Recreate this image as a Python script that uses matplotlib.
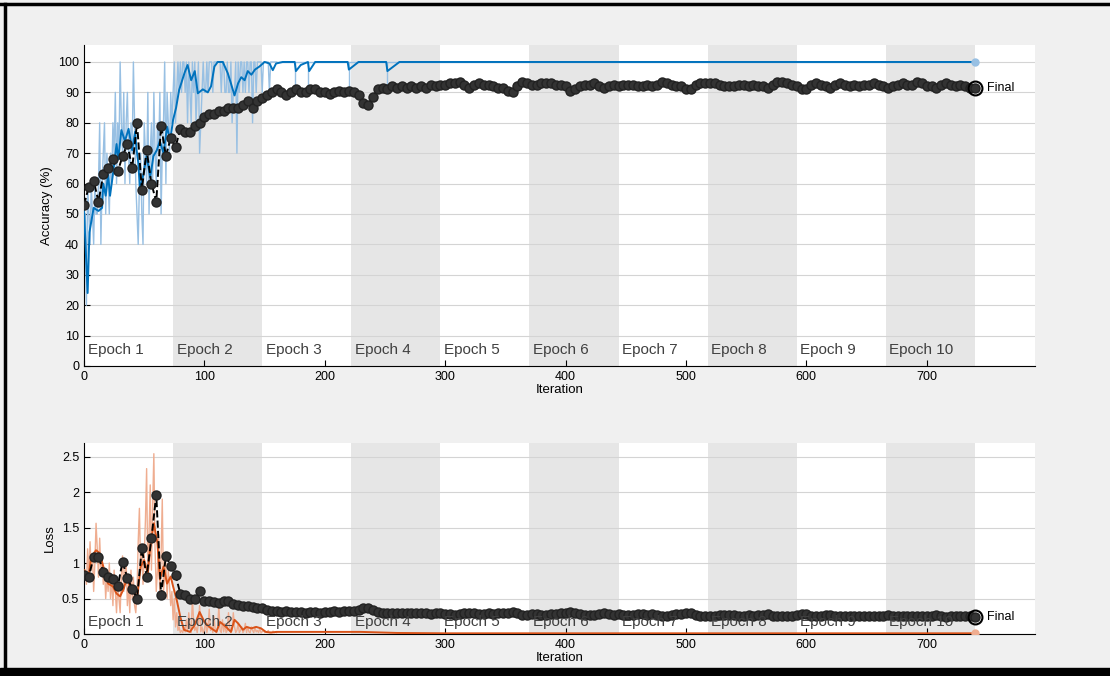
import matplotlib
matplotlib.use('Agg')
import matplotlib.pyplot as plt
from matplotlib.lines import Line2D
from matplotlib.patches import Rectangle

plt.rcParams['font.family'] = ['Liberation Sans', 'DejaVu Sans']

# epochs: 74 iterations each
epoch_len = 74
n_epochs = 10
n_iter = 740

# raw training accuracy, iterations 1..160 (later it sits at 100 with a few dips)
train_acc_raw = [
    50, 20, 60, 50, 40, 60, 50, 40, 60, 50,
    50, 60, 80, 40, 60, 70, 80, 50, 70, 60,
    50, 70, 60, 80, 70, 90, 60, 80, 70, 100,
    80, 70, 90, 60, 80, 90, 70, 60, 80, 70,
    100, 80, 60, 50, 40, 60, 70, 50, 40, 80,
    70, 60, 90, 50, 70, 80, 60, 90, 70, 60,
    80, 70, 90, 50, 70, 80, 100, 60, 90, 80,
    70, 90, 80, 90, 100, 80, 90, 100, 90, 100,
    90, 100, 100, 90, 100, 80, 100, 90, 80, 100,
    90, 100, 80, 90, 100, 70, 80, 90, 100, 90,
    90, 100, 90, 100, 100, 100, 90, 100, 100, 100,
    100, 100, 100, 90, 100, 100, 90, 90, 100, 90,
    90, 100, 80, 90, 90, 100, 70, 100, 90, 100,
    100, 90, 100, 90, 100, 100, 90, 100, 100, 80,
    100, 100, 90, 100, 100, 100, 100, 90, 100, 100,
    100, 100, 100, 90, 100, 100, 100, 100, 100, 100,
]
train_acc_dip_iter = [175, 186, 220, 252]
train_acc_dip_low = 90

# smoothed training accuracy
smooth_acc_iter = [0, 3, 4.5, 8, 12, 15, 16, 18, 20, 21.6, 24, 27, 28.5, 31, 34, 37, 40,
                   42.4, 43.7, 45, 46.5, 49, 52, 55, 57.6, 60.5, 63, 66, 69, 71.5, 74,
                   76.5, 79, 83.4, 86, 89, 92, 94.5, 98.7, 102.8, 105.5, 108.3, 111,
                   115.3, 119.4, 122, 125, 128, 130.6, 133.4, 136, 139, 142, 145.7, 150,
                   154, 156.8, 159.5, 165, 175, 176, 180, 186, 187, 192, 219, 220, 228,
                   251, 252, 262, 740]
smooth_acc = [51, 24, 44, 52, 51, 52, 60, 56, 63, 56, 63, 73, 68, 77.6, 74, 78, 71,
              77, 71, 67, 58, 62.5, 69, 62, 69, 71, 74, 70, 78.7, 74, 81,
              85, 90.8, 96.3, 99, 94, 97, 89.7, 91, 90, 92, 98.5, 100,
              100, 96.3, 93, 89, 93, 95, 94, 97, 95.8, 97.5, 98.5, 100,
              99.5, 97.3, 99.5, 100, 100, 97, 99, 100, 97, 100, 100, 97.5, 100,
              100, 97, 100, 100]

# validation accuracy, every 4 iterations from 0 to 740
val_acc = [
    53, 59, 61, 54, 63, 65, 68, 64, 69, 73,
    65, 80, 58, 71, 60, 54, 79, 69, 75, 72,
    78, 77, 77, 79, 80, 82, 83, 83, 84, 84,
    85, 85, 85, 86, 87, 85, 87, 88, 89, 90,
    91, 90, 89, 90, 91, 90, 90, 91, 91, 90,
    90, 89.5, 90, 90.5, 90, 90.5, 90, 89, 86.5, 86,
    88.5, 91, 91.5, 91, 92, 91.5, 92, 91.5, 92, 91.5,
    92, 91.5, 92.5, 92, 92.5, 92.5, 93, 93, 93.5, 92.5,
    91.5, 92.5, 93, 92.5, 92.5, 92, 91.5, 91.5, 90.5, 90,
    92, 93.5, 93, 92.5, 92.5, 93, 93, 93, 92.5, 92.5,
    92, 90.5, 91, 92, 92.5, 92.5, 93, 92, 91.5, 92,
    92.5, 92, 92.5, 92.5, 92.5, 92, 92, 92.5, 92, 92.5,
    93.5, 93, 92.5, 92, 92, 91, 91, 92.5, 93, 93,
    93, 93, 92.5, 92, 92, 92, 92.5, 92.5, 92, 92.5,
    92, 92, 91.5, 92.5, 93.5, 93.5, 93, 92.5, 92, 91,
    91, 92.5, 93, 92.5, 92, 91.5, 92.5, 93, 92.5, 92,
    92.5, 92, 92.5, 92.5, 93, 92.5, 92, 91.5, 92, 92.5,
    93, 92.5, 92.5, 93.5, 93, 92, 92, 91.5, 92.5, 93,
    92.5, 92, 92.5, 92, 91.5, 91.5,
]

# raw training loss, iterations 1..160
train_loss_raw = [
    0.9, 0.7, 1.2, 0.8, 1.3, 0.9, 1.1, 0.6, 1.0, 1.56,
    1.2, 0.8, 1.35, 0.9, 1.1, 0.7, 0.9, 0.5, 0.8, 0.6,
    1.0, 0.5, 0.8, 0.4, 0.9, 0.6, 0.3, 0.7, 0.5, 0.3,
    0.8, 1.1, 0.6, 0.9, 1.0, 0.4, 0.7, 0.3, 0.9, 0.5,
    0.8, 0.4, 0.3, 0.6, 1.3, 1.77, 0.9, 1.2, 0.7, 1.1,
    1.6, 2.33, 0.8, 1.4, 2.1, 0.9, 1.8, 2.54, 1.2, 0.6,
    0.9, 1.4, 0.5, 1.1, 1.9, 0.6, 0.8, 1.0, 0.5, 0.9,
    0.7, 0.4, 0.6, 0.2, 0.5, 0.1, 0.3, 0.05, 0.1, 0.02,
    0.05, 0.02, 0.1, 0.03, 0.2, 0.05, 0.3, 0.1, 0.02, 0.5,
    0.2, 0.05, 0.1, 0.02, 0.15, 0.4, 0.03, 0.1, 0.02, 0.05,
    0.2, 0.02, 0.1, 0.35, 0.05, 0.1, 0.02, 0.25, 0.05, 0.02,
    0.1, 0.4, 0.05, 0.02, 0.2, 0.03, 0.15, 0.02, 0.05, 0.3,
    0.1, 0.02, 0.05, 0.3, 0.1, 0.02, 0.05, 0.15, 0.02, 0.05,
    0.1, 0.02, 0.05, 0.15, 0.02, 0.1, 0.03, 0.02, 0.1, 0.05,
    0.02, 0.1, 0.03, 0.05, 0.02, 0.08, 0.02, 0.03, 0.05, 0.02,
    0.03, 0.02, 0.05, 0.02, 0.03, 0.02, 0.04, 0.02, 0.03, 0.02,
]

# smoothed training loss
smooth_loss_iter = [0, 3.5, 6, 10, 13, 16, 20, 24, 27, 30, 33, 36, 38, 41, 44, 47, 50, 53,
                    55, 58, 61, 63, 66, 69, 72, 74, 77, 80, 83, 88, 92, 96, 100, 104, 110,
                    113, 118, 122, 125, 128, 132, 135, 139, 143, 147, 151, 155, 160, 200,
                    230, 260, 300, 740]
smooth_loss = [0.9, 0.77, 1.09, 1.18, 1.14, 0.95, 0.71, 0.67, 0.57, 0.53, 0.64, 0.81, 0.67,
               0.64, 0.48, 0.95, 1.04, 0.85, 1.23, 1.56, 1.28, 0.77, 0.95, 0.71, 0.81, 0.67,
               0.48, 0.24, 0.06, 0.03, 0.13, 0.31, 0.17, 0.1, 0.03, 0.17, 0.1, 0.03, 0.2,
               0.15, 0.06, 0.1, 0.08, 0.1, 0.08, 0.03, 0.02, 0.03, 0.03, 0.03, 0.015, 0.01,
               0.01]

# validation loss, every 4 iterations from 0 to 740
val_loss = [
    0.83, 0.81, 1.09, 1.09, 0.88, 0.81, 0.77, 0.67, 1.02, 0.79,
    0.64, 0.5, 1.21, 0.81, 1.35, 1.96, 0.55, 1.1, 0.96, 0.83,
    0.57, 0.55, 0.5, 0.49, 0.6, 0.47, 0.46, 0.45, 0.44, 0.46,
    0.47, 0.42, 0.41, 0.4, 0.39, 0.38, 0.37, 0.36, 0.34, 0.32,
    0.32, 0.31, 0.32, 0.31, 0.31, 0.31, 0.3, 0.31, 0.31, 0.3,
    0.31, 0.31, 0.32, 0.31, 0.32, 0.32, 0.32, 0.34, 0.37, 0.36,
    0.34, 0.31, 0.3, 0.3, 0.29, 0.3, 0.29, 0.3, 0.29, 0.29,
    0.3, 0.29, 0.28, 0.29, 0.29, 0.28, 0.28, 0.27, 0.28, 0.29,
    0.3, 0.29, 0.28, 0.28, 0.29, 0.28, 0.29, 0.3, 0.3, 0.31,
    0.29, 0.27, 0.27, 0.28, 0.28, 0.27, 0.27, 0.28, 0.28, 0.29,
    0.29, 0.31, 0.3, 0.28, 0.27, 0.27, 0.27, 0.28, 0.29, 0.28,
    0.27, 0.28, 0.27, 0.27, 0.27, 0.28, 0.28, 0.27, 0.28, 0.27,
    0.26, 0.26, 0.27, 0.28, 0.28, 0.29, 0.29, 0.27, 0.26, 0.26,
    0.26, 0.26, 0.27, 0.27, 0.27, 0.27, 0.26, 0.26, 0.27, 0.26,
    0.27, 0.27, 0.28, 0.26, 0.25, 0.25, 0.26, 0.26, 0.27, 0.28,
    0.28, 0.26, 0.25, 0.26, 0.27, 0.27, 0.26, 0.25, 0.26, 0.26,
    0.26, 0.26, 0.26, 0.25, 0.25, 0.26, 0.26, 0.27, 0.26, 0.25,
    0.25, 0.25, 0.26, 0.25, 0.25, 0.26, 0.26, 0.27, 0.25, 0.24,
    0.25, 0.25, 0.25, 0.25, 0.26, 0.24,
]
final_train_loss = 0.01
final_train_acc = 100

val_iter = list(range(0, 4 * len(val_acc), 4))
raw_iter = list(range(1, len(train_acc_raw) + 1))

dark_blue = '#0072bd'
light_blue = '#98c0e3'
dark_orange = '#d95319'
light_orange = '#efad90'
band = '#e6e6e6'
grid_c = '#d4d4d4'

fig = plt.figure(figsize=(11.1, 6.76), dpi=100)
fig.patch.set_facecolor('#f0f0f0')

ax1 = fig.add_axes([0.0757, 0.4586, 0.8568, 0.4749])
ax2 = fig.add_axes([0.0757, 0.0621, 0.8568, 0.2825])


def style_axes(ax, ymax, yticks, label_y):
    ax.set_facecolor('white')
    ax.set_xlim(0, 790)
    ax.set_ylim(0, ymax)
    for e in range(n_epochs):
        if e % 2 == 1:
            ax.axvspan(e * epoch_len, (e + 1) * epoch_len, color=band, lw=0, zorder=1)
        ax.text(e * epoch_len + 3, label_y, 'Epoch %d' % (e + 1), fontsize=11,
                color='#404040', va='center', ha='left', zorder=6,
                transform=ax.get_xaxis_transform())
    ax.set_yticks(yticks)
    ax.set_xticks(range(0, 701, 100))
    ax.yaxis.grid(True, color=grid_c, lw=0.8)
    ax.set_axisbelow('line')
    for s in ['top', 'right']:
        ax.spines[s].set_visible(False)
    ax.tick_params(direction='in', labelsize=9, length=4)
    ax.set_xlabel('Iteration', fontsize=9.5, labelpad=1)


style_axes(ax1, 105.6, range(0, 101, 10), 0.05)
style_axes(ax2, 2.69, [0, 0.5, 1, 1.5, 2, 2.5], 0.063)
ax2.set_yticklabels(['0', '0.5', '1', '1.5', '2', '2.5'])

# accuracy
ax1.plot(raw_iter, train_acc_raw, color=light_blue, lw=1.0, zorder=2)
ax1.vlines(train_acc_dip_iter, train_acc_dip_low, final_train_acc, color=light_blue, lw=1.0, zorder=2)
ax1.plot([raw_iter[-1], n_iter], [final_train_acc, final_train_acc], color=light_blue, lw=1.0, zorder=2)
ax1.plot(smooth_acc_iter, smooth_acc, color=dark_blue, lw=1.4, zorder=3)
ax1.plot(val_iter, val_acc, '--', color='black', lw=1.4, marker='o', markersize=6.5,
         markerfacecolor='#333333', markeredgecolor='#222222', zorder=4)
ax1.plot(n_iter, final_train_acc, 'o', color=light_blue, markersize=5, zorder=5)
ax1.plot(val_iter[-1], val_acc[-1], 'o', markerfacecolor='none', markeredgecolor='black',
         markersize=10, mew=1.5, zorder=5)
ax1.text(val_iter[-1] + 10, val_acc[-1], 'Final', fontsize=9, va='center', ha='left')
ax1.set_ylabel('Accuracy (%)', fontsize=9.5)

# loss
ax2.plot(raw_iter, train_loss_raw, color=light_orange, lw=1.0, zorder=2)
ax2.plot(smooth_loss_iter, smooth_loss, color=dark_orange, lw=1.4, zorder=3)
ax2.plot(val_iter, val_loss, '--', color='black', lw=1.4, marker='o', markersize=6.5,
         markerfacecolor='#333333', markeredgecolor='#222222', zorder=4)
ax2.plot(n_iter, final_train_loss, 'o', color=light_orange, markersize=5, zorder=5)
ax2.plot(val_iter[-1], val_loss[-1], 'o', markerfacecolor='none', markeredgecolor='black',
         markersize=10, mew=1.5, zorder=5)
ax2.text(val_iter[-1] + 10, val_loss[-1], 'Final', fontsize=9, va='center', ha='left')
ax2.set_ylabel('Loss', fontsize=9.5)

# window frame of the screenshot
fig.add_artist(Line2D([0, 1], [0.9935, 0.9935], color='black', lw=2.5, transform=fig.transFigure))
fig.add_artist(Line2D([0.0045, 0.0045], [0, 0.9935], color='black', lw=2.5, transform=fig.transFigure))
fig.add_artist(Rectangle((0, 0), 1, 0.012, color='black', transform=fig.transFigure))

fig.savefig('out.png', dpi=100, facecolor=fig.get_facecolor())
